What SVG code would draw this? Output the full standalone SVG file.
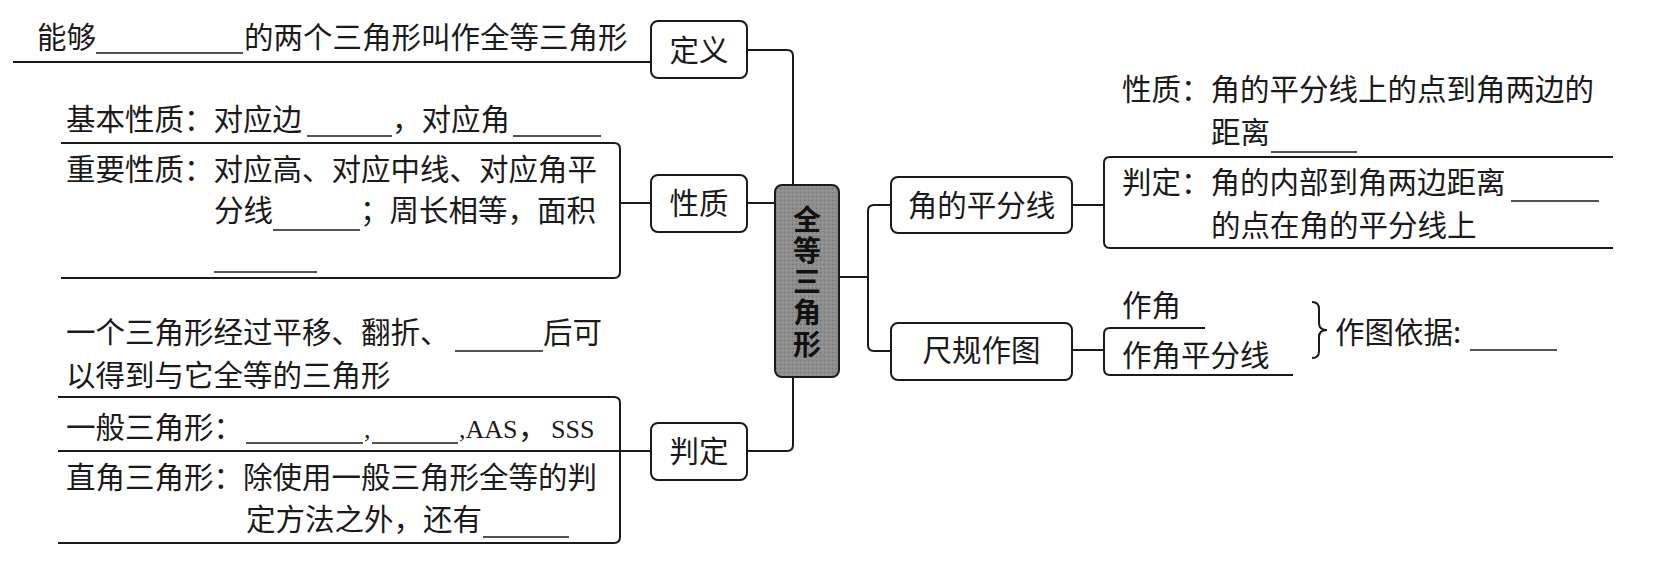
<svg xmlns="http://www.w3.org/2000/svg" width="1663" height="563" viewBox="0 0 1663 563">
<defs>
<pattern id="stipple" width="4" height="4" patternUnits="userSpaceOnUse">
<rect width="4" height="4" fill="#8d8d8d"/>
<rect x="0" y="0" width="1" height="1" fill="#6f6f6f"/>
<rect x="2" y="2" width="1" height="1" fill="#a6a6a6"/>
</pattern>
</defs>
<style>
.t{font-family:"Noto Sans CJK SC","Noto Sans",sans-serif;font-size:29.5px;fill:#1a1a1a}
.s{font-family:"Liberation Serif","Times New Roman",serif;font-size:26px;fill:#1a1a1a}
.c{font-family:"Noto Sans CJK SC","Noto Sans",sans-serif;font-size:28px;font-weight:bold;fill:#111;writing-mode:vertical-rl;letter-spacing:3.25px}
.lbl{text-anchor:middle}
.box{fill:#fff;stroke:#1a1a1a;stroke-width:2}
.ln{fill:none;stroke:#1a1a1a;stroke-width:2}
.blank{stroke:#1a1a1a;stroke-width:1.6}
</style>
<rect width="1663" height="563" fill="#fff"/>

<g id="connectors">
<path class="ln" d="M747,50 H787 Q793,50 793,56 V185"/>
<path class="ln" d="M747,203 H775"/>
<path class="ln" d="M747,451 H787 Q793,451 793,445 V377"/>
<path class="ln" d="M839,277 H868"/>
<path class="ln" d="M891,205 H874 Q868,205 868,211 V345 Q868,351 874,351 H891"/>
<path class="ln" d="M1072,205 H1104"/>
<path class="ln" d="M1072,350 H1104"/>
<path class="ln" d="M620,203 H651"/>
<path class="ln" d="M13,62 H651"/>
<path class="ln" d="M58,451 H651"/>
</g>

<g id="node-center">
<rect x="775" y="185" width="64" height="192" rx="7" fill="url(#stipple)" stroke="#1a1a1a" stroke-width="2"/>
<text class="c" x="807" y="205">全等三角形</text>
</g>

<g id="node-dingyi">
<rect class="box" x="651" y="21" width="96" height="57" rx="7"/>
<text class="t lbl" x="699" y="61">定义</text>
</g>

<g id="node-xingzhi">
<rect class="box" x="651" y="175" width="96" height="57" rx="7"/>
<text class="t lbl" x="699" y="214">性质</text>
</g>

<g id="node-panding">
<rect class="box" x="651" y="423" width="96" height="57" rx="7"/>
<text class="t lbl" x="699" y="462">判定</text>
</g>

<g id="node-jiaopingfenxian">
<rect class="box" x="891" y="177" width="181" height="56" rx="7"/>
<text class="t lbl" x="981.5" y="216">角的平分线</text>
</g>

<g id="node-chiguizuotu">
<rect class="box" x="891" y="323" width="181" height="57" rx="7"/>
<text class="t lbl" x="981.5" y="361">尺规作图</text>
</g>

<g id="leaf-dingyi">
<text class="t" y="48"><tspan x="37">能够</tspan><tspan x="244">的两个三角形叫作全等三角形</tspan></text>
<line class="blank" x1="96" y1="53" x2="243" y2="53"/>
</g>

<g id="leaf-xingzhi">
<path class="ln" d="M61,143 H614 Q620,143 620,149 V272 Q620,278 614,278 H61"/>
<text class="t" y="130"><tspan x="66">基本性质：对应边</tspan><tspan x="392">，对应角</tspan></text>
<line class="blank" x1="307" y1="136" x2="392" y2="136"/>
<line class="blank" x1="513" y1="136" x2="601" y2="136"/>
<text class="t" x="66" y="180">重要性质：对应高、对应中线、对应角平</text>
<text class="t" y="221"><tspan x="214">分线</tspan><tspan x="360">；周长相等，面积</tspan></text>
<line class="blank" x1="273" y1="230" x2="360" y2="230"/>
<line class="blank" x1="214" y1="272" x2="317" y2="272"/>
</g>

<g id="leaf-panding">
<text class="t" y="343"><tspan x="66">一个三角形经过平移、翻折、</tspan><tspan x="543">后可</tspan></text>
<line class="blank" x1="455" y1="351" x2="543" y2="351"/>
<text class="t" x="66" y="386">以得到与它全等的三角形</text>
<path class="ln" d="M58,397 H614 Q620,397 620,403 V537 Q620,543 614,543 H58"/>
<text class="t" y="438"><tspan x="66">一般三角形：</tspan><tspan class="s" x="364">,</tspan><tspan class="s" x="459">,AAS</tspan><tspan x="518">，</tspan><tspan class="s" x="551">SSS</tspan></text>
<line class="blank" x1="246" y1="443" x2="363" y2="443"/>
<line class="blank" x1="372" y1="443" x2="458" y2="443"/>
<text class="t" x="66" y="488">直角三角形：除使用一般三角形全等的判</text>
<text class="t" x="246" y="530">定方法之外，还有</text>
<line class="blank" x1="483" y1="537" x2="569" y2="537"/>
</g>

<g id="leaf-jiaopingfenxian">
<text class="t" x="1122" y="100">性质：角的平分线上的点到角两边的</text>
<text class="t" x="1211" y="143">距离</text>
<line class="blank" x1="1271" y1="152" x2="1357" y2="152"/>
<path class="ln" d="M1613,157 H1110 Q1104,157 1104,163 V242 Q1104,248 1110,248 H1613"/>
<text class="t" x="1122" y="193">判定：角的内部到角两边距离</text>
<line class="blank" x1="1511" y1="201" x2="1599" y2="201"/>
<text class="t" x="1211" y="236">的点在角的平分线上</text>
</g>

<g id="leaf-chiguizuotu">
<text class="t" x="1122" y="316">作角</text>
<path class="ln" d="M1205,328 H1110 Q1104,328 1104,334 V369 Q1104,375 1110,375 H1293"/>
<text class="t" x="1122" y="366">作角平分线</text>
<path class="ln" d="M1312,302 Q1319,302 1319,309 V323 Q1319,330 1327,330 Q1319,330 1319,337 V351 Q1319,358 1312,358"/>
<text class="t" x="1335" y="343">作图依据:</text>
<line class="blank" x1="1470" y1="350" x2="1557" y2="350"/>
</g>
</svg>
